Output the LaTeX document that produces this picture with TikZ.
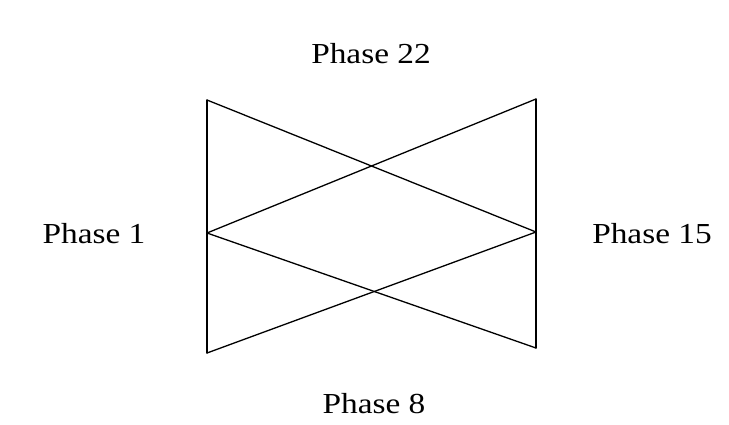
\documentclass[tikz,border=0pt]{standalone}
\usepackage{fontspec}
\setmainfont{Liberation Serif}
\newfontfamily\lblfont[FakeStretch=1.15]{Liberation Serif}
\begin{document}
\begin{tikzpicture}[x=1pt,y=-1pt,
  lbl/.style={anchor=base,inner sep=0pt,font=\lblfont\fontsize{29}{30}\selectfont},
  ln/.style={line width=1.3pt,line cap=round,line join=miter}]
\useasboundingbox (0,0) rectangle (729,424);
\coordinate (lt) at (207,100);
\coordinate (lm) at (207,233);
\coordinate (lb) at (207,353);
\coordinate (rt) at (536,99);
\coordinate (rm) at (536,232);
\coordinate (rb) at (536,348);
\draw[ln] (lt) -- (lb);
\draw[ln] (rt) -- (rb);
\draw[ln] (lt) -- (rm);
\draw[ln] (lm) -- (rt);
\draw[ln] (lm) -- (rb);
\draw[ln] (lb) -- (rm);
\node[lbl] (p22) at (371,63) {Phase 22};
\node[lbl] (p1) at (94,243) {Phase 1};
\node[lbl] (p15) at (652,243) {Phase 15};
\node[lbl] (p8) at (374,413) {Phase 8};
\end{tikzpicture}
\end{document}
